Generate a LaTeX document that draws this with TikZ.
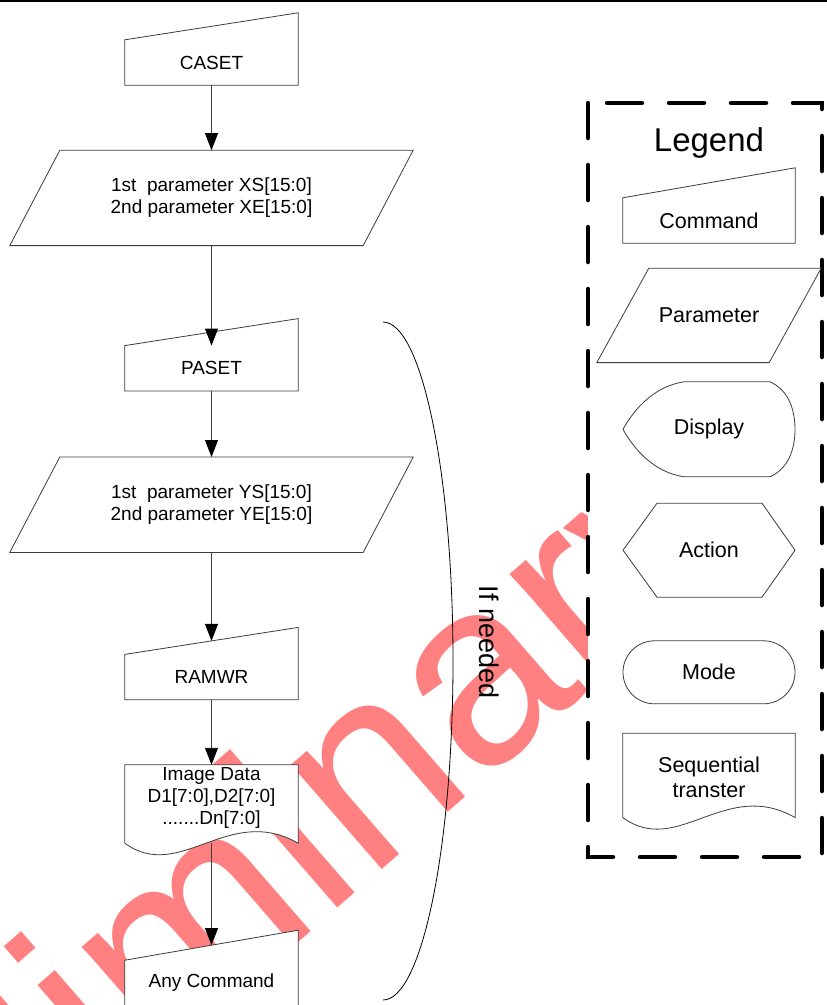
\documentclass[tikz,border=0pt]{standalone}
\usepackage{fontspec}
\setmainfont{Liberation Sans}
\usepackage{tikz}
\usetikzlibrary{arrows.meta, positioning, backgrounds}
\definecolor{markred}{RGB}{255, 128, 128}
\definecolor{edgegray}{RGB}{60, 60, 60}
\pgfdeclarelayer{mark}
\pgfsetlayers{mark,background,main}

\begin{document}
\begin{tikzpicture}[x=1pt, y=1pt,
    box/.style={inner sep=0pt, align=center, font=\fontsize{19}{22}\selectfont},
    cmdbox/.style={box, minimum width=173pt, minimum height=45pt},
    parambox/.style={box, minimum width=403pt, minimum height=95pt},
    databox/.style={box, minimum width=173pt, minimum height=66pt},
    keybox/.style={inner sep=0pt, align=center, font=\fontsize{21.5}{25}\selectfont,
                   minimum width=172pt},
    outline/.style={draw=edgegray, line width=0.8pt, fill=white},
    flow/.style={draw=edgegray, line width=0.9pt, -{Triangle[length=17pt, width=13pt, color=black]}},
    legendbox/.style={line width=4.5pt, dash pattern=on 35pt off 27pt, line cap=round, fill=white},
    watermark/.style={text=markred, inner sep=0pt, font=\fontsize{262}{262}\selectfont}
]
    \useasboundingbox (0,0) rectangle (827,-1005);
    \draw[line width=1.5pt] (0,-1) -- (827,-1);

    % flow
    \node[cmdbox] (caset) at (211.5,-62.5) {CASET};
    \node[parambox, below=65pt of caset] (xpar) {1st\ \ parameter XS[15:0]\\2nd parameter XE[15:0]};
    \node[cmdbox, below=100pt of xpar] (paset) {PASET};
    \node[parambox, below=66pt of paset] (ypar) {1st\ \ parameter YS[15:0]\\2nd parameter YE[15:0]};
    \node[cmdbox, below=102pt of ypar] (ramwr) {RAMWR};
    \node[databox, below=65pt of ramwr] (imgdata) {Image Data\\D1[7:0],D2[7:0]\\.......Dn[7:0]};
    \node[cmdbox, below=129pt of imgdata] (anycmd) {Any Command};

    % legend
    \node[font=\fontsize{33}{36}\selectfont] (legend) at (709,-143) {Legend};
    \node[keybox, minimum height=45pt] (lgcmd) at (709,-220.5) {Command};
    \node[keybox, minimum width=224pt, minimum height=94pt, below=25pt of lgcmd] (lgpar) {Parameter};
    \node[keybox, minimum height=95pt, below=19pt of lgpar] (lgdisp) {Display};
    \node[keybox, minimum height=94pt, below=26pt of lgdisp] (lgact) {Action};
    \node[keybox, minimum height=63pt, below=43pt of lgact, draw=edgegray, line width=0.8pt,
          rounded corners=31.5pt] (lgmode) {Mode};
    \node[keybox, minimum height=88pt, below=29pt of lgmode] (lgseq) {Sequential\\transter};

    \node[rotate=-90, font=\fontsize{27}{30}\selectfont] (ifneeded) at (489,-642) {If needed};
    \draw[line width=0.8pt] (383,-322) arc[start angle=90, end angle=-90, x radius=70, y radius=339];

    \begin{scope}[on background layer]
        \draw[legendbox] (588,-103) rectangle (822,-857);
        \foreach \n/\r in {caset/27, paset/27, ramwr/27, anycmd/30, lgcmd/30}
            \draw[outline] (\n.south west) -- (\n.north west) -- ([yshift=\r pt]\n.north east) -- (\n.south east) -- cycle;
        \foreach \n/\s in {xpar/50, ypar/50, lgpar/52}
            \draw[outline] (\n.south west) -- ([xshift=\s pt]\n.north west) -- (\n.north east) -- ([xshift=-\s pt]\n.south east) -- cycle;
        \foreach \n/\d in {imgdata/-12, lgseq/4}
            \draw[outline] ([yshift=\d pt]\n.south west) -- (\n.north west) -- (\n.north east) -- ([yshift=\d pt]\n.south east)
                .. controls +(-70,40) and +(55,-40) .. ([yshift=\d pt]\n.south west) -- cycle;
        \begin{scope}[shift={(lgdisp.center)}]
            \draw[outline] (-25,47.5) -- (61,47.5) .. controls (78,40) and (86,22) .. (86,0)
                .. controls (86,-22) and (78,-40) .. (61,-47.5) -- (-25,-47.5)
                .. controls (-55,-43) and (-75,-20) .. (-86,0)
                .. controls (-75,20) and (-55,43) .. (-25,47.5) -- cycle;
        \end{scope}
        \begin{scope}[shift={(lgact.center)}]
            \draw[outline] (-86,0) -- (-52,47) -- (53,47) -- (86,0) -- (53,-47) -- (-52,-47) -- cycle;
        \end{scope}
    \end{scope}

    \begin{pgfonlayer}{mark}
        \node[watermark, rotate=41] (wm) at (214,-926) {Preliminary};
    \end{pgfonlayer}

    \draw[flow] (caset.south) -- (xpar.north);
    \draw[flow] (xpar.south) -- (paset.north);
    \draw[flow] (paset.south) -- (ypar.north);
    \draw[flow] (ypar.south) -- ([yshift=13.5pt]ramwr.north);
    \draw[flow] (ramwr.south) -- (imgdata.north);
    \draw[flow] ([yshift=-12pt]imgdata.south) -- ([yshift=15pt]anycmd.north);
\end{tikzpicture}
\end{document}
